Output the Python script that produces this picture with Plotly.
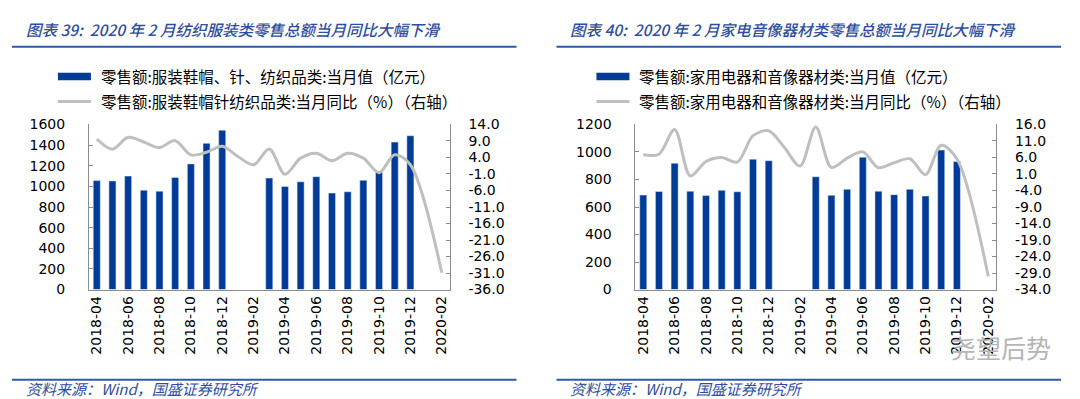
import plotly.graph_objects as go

months = ["2018-04", "2018-05", "2018-06", "2018-07", "2018-08", "2018-09", "2018-10",
          "2018-11", "2018-12", "2019-01", "2019-02", "2019-03", "2019-04", "2019-05",
          "2019-06", "2019-07", "2019-08", "2019-09", "2019-10", "2019-11", "2019-12",
          "2020-01", "2020-02"]
tick_months = months[::2]

# Left chart: textiles & clothing
cloth_value = [1056, 1053, 1100, 963, 954, 1087, 1218, 1417, 1544, None, None, 1081,
               1000, 1044, 1094, 935, 948, 1059, 1149, 1429, 1491, None, None]
cloth_yoy = [9.6, 6.5, 10.1, 8.7, 7.0, 9.1, 4.8, 5.6, 7.4, 4.3, 1.8, 6.6,
             -1.1, 3.8, 5.3, 3.0, 5.3, 3.8, -0.6, 4.8, 1.8, None, -30.9]
cloth_right_ticks = [14, 9, 4, -1, -6, -11, -16, -21, -26, -31, -36]
cloth_right_text = ["14.0", "9.0", "4.0", "-1.0", "-6.0", "-11.0", "-16.0", "-21.0",
                    "-26.0", "-31.0", "-36.0"]

# Right chart: household appliances & AV equipment
appl_value = [687, 713, 918, 715, 683, 722, 711, 948, 937, None, None, 820,
              685, 729, 962, 715, 690, 729, 680, 1014, 930, None, None]
appl_yoy = [6.8, 7.0, 14.5, 0.4, 4.8, 6.0, 4.6, 12.6, 14.1, 9.0, 3.4, 15.2,
            3.0, 5.8, 7.7, 2.9, 4.4, 5.6, 0.8, 9.7, 5.6, None, -30.0]
appl_right_ticks = [16, 11, 6, 1, -4, -9, -14, -19, -24, -29, -34]
appl_right_text = ["16.0", "11.0", "6.0", "1.0", "-4.0", "-9.0", "-14.0", "-19.0",
                   "-24.0", "-29.0", "-34.0"]

titles = ["图表 39:  2020 年 2 月纺织服装类零售总额当月同比大幅下滑",
          "图表 40:  2020 年 2 月家电音像器材类零售总额当月同比大幅下滑"]
legend_bar = ["零售额:服装鞋帽、针、纺织品类:当月值（亿元）",
              "零售额:家用电器和音像器材类:当月值（亿元）"]
legend_line = ["零售额:服装鞋帽针纺织品类:当月同比（%）（右轴）",
               "零售额:家用电器和音像器材类:当月同比（%）（右轴）"]
source = "资料来源：Wind，国盛证券研究所"
watermark = "尧望后势"

W, H = 1080, 399
BAR = "#003C97"
LINE = "#BFBFBF"
AX = "#8C8C8C"
BLUE = "#2F4E9E"
RULE = "#2E5BA6"
CJK = "Noto Sans CJK SC"
TICKF = dict(family="DejaVu Sans", size=14, color="#000000")

def px(x):
    return x / W

def py(y):
    return 1 - y / H

boundaries = [i + 1.5 for i in range(0, 21, 2)]

fig = go.Figure()

panels = [
    dict(vals=cloth_value, yoy=cloth_yoy, ymax=1600, rt=cloth_right_ticks, rtt=cloth_right_text,
         x0=80, x1=441, off=0),
    dict(vals=appl_value, yoy=appl_yoy, ymax=1200, rt=appl_right_ticks, rtt=appl_right_text,
         x0=627, x1=988, off=545),
]

shapes = []
annotations = []
for i, p in enumerate(panels):
    xa = "x" if i == 0 else "x3"
    ya = "y" if i == 0 else "y3"
    yb = "y2" if i == 0 else "y4"
    fig.add_trace(go.Bar(x=months, y=p["vals"], xaxis=xa, yaxis=ya, marker_color=BAR,
                         width=0.45, showlegend=False))
    fig.add_trace(go.Scatter(x=months, y=p["yoy"], xaxis=xa, yaxis=yb, mode="lines",
                             line=dict(color=LINE, width=3, shape="spline", smoothing=0.9),
                             connectgaps=True, showlegend=False))
    dom_x = [px(p["x0"]), px(p["x1"])]
    dom_y = [py(285), py(113)]
    n = "" if i == 0 else "3"
    n2 = "2" if i == 0 else "4"
    fig.update_layout(**{
        "xaxis" + n: dict(domain=dom_x, anchor=ya, type="category", categoryarray=months,
                          range=[-0.5, 22.5], tickvals=tick_months, tickangle=-90,
                          tickfont=TICKF, showline=True, linecolor=AX, linewidth=1,
                          ticks="", showgrid=False, zeroline=False),
        "xaxis" + n2: dict(domain=dom_x, anchor=ya, overlaying=xa, range=[-0.5, 22.5],
                           tickvals=boundaries, ticks="inside", ticklen=6, tickcolor=AX,
                           showticklabels=False, showline=False, showgrid=False,
                           zeroline=False),
        "yaxis" + n: dict(domain=dom_y, anchor=xa, range=[0, p["ymax"]], dtick=200,
                          tickfont=TICKF, showline=True, linecolor=AX, ticks="inside",
                          ticklen=4, tickcolor=AX, showgrid=False, zeroline=False,
                          ticklabelstandoff=20),
        "yaxis" + n2: dict(domain=dom_y, anchor=xa, overlaying=ya, side="right",
                           range=[p["rt"][-1], p["rt"][0]], tickvals=p["rt"],
                           ticktext=p["rtt"], tickfont=TICKF, showline=True, linecolor=AX,
                           ticks="inside", ticklen=4, tickcolor=AX, showgrid=False,
                           zeroline=False, ticklabelstandoff=15),
    })
    off = p["off"]
    # title and rules
    annotations.append(dict(x=px(15 + off), y=py(14), xref="paper", yref="paper",
                            xanchor="left", yanchor="middle", showarrow=False,
                            text="<i>" + titles[i] + "</i>",
                            font=dict(family=CJK, size=15.5, color=BLUE, weight=500)))
    shapes.append(dict(type="line", xref="paper", yref="paper", x0=px(3 + off), x1=px(508 + off),
                       y0=py(32), y1=py(32), line=dict(color=RULE, width=2)))
    shapes.append(dict(type="line", xref="paper", yref="paper", x0=px(3 + off), x1=px(508 + off),
                       y0=py(379), y1=py(379), line=dict(color=RULE, width=2)))
    annotations.append(dict(x=px(15 + off), y=py(388), xref="paper", yref="paper",
                            xanchor="left", yanchor="middle", showarrow=False,
                            text="<i>" + source + "</i>",
                            font=dict(family=CJK, size=15, color=BLUE)))
    # legend
    lx = 49 + (off - 6 if i else 0)
    shapes.append(dict(type="rect", xref="paper", yref="paper", x0=px(lx), x1=px(lx + 33),
                       y0=py(67), y1=py(59), fillcolor=BAR, line=dict(width=0)))
    shapes.append(dict(type="line", xref="paper", yref="paper", x0=px(lx), x1=px(lx + 33),
                       y0=py(89), y1=py(89), line=dict(color=LINE, width=3)))
    annotations.append(dict(x=px(lx + 41), y=py(63), xref="paper", yref="paper",
                            xanchor="left", yanchor="middle", showarrow=False,
                            text=legend_bar[i], font=dict(family=CJK, size=15.5, color="#000")))
    annotations.append(dict(x=px(lx + 41), y=py(89), xref="paper", yref="paper",
                            xanchor="left", yanchor="middle", showarrow=False,
                            text=legend_line[i], font=dict(family=CJK, size=15.5, color="#000")))

annotations.append(dict(x=px(993), y=py(345), xref="paper", yref="paper",
                        xanchor="center", yanchor="middle", showarrow=False,
                        text=watermark, font=dict(family=CJK, size=25, color="#B5B5B5")))

fig.update_layout(width=W, height=H, margin=dict(l=0, r=0, t=0, b=0),
                  paper_bgcolor="white", plot_bgcolor="white", bargap=0.55,
                  shapes=shapes, annotations=annotations, showlegend=False)

fig.write_html("out.html")
